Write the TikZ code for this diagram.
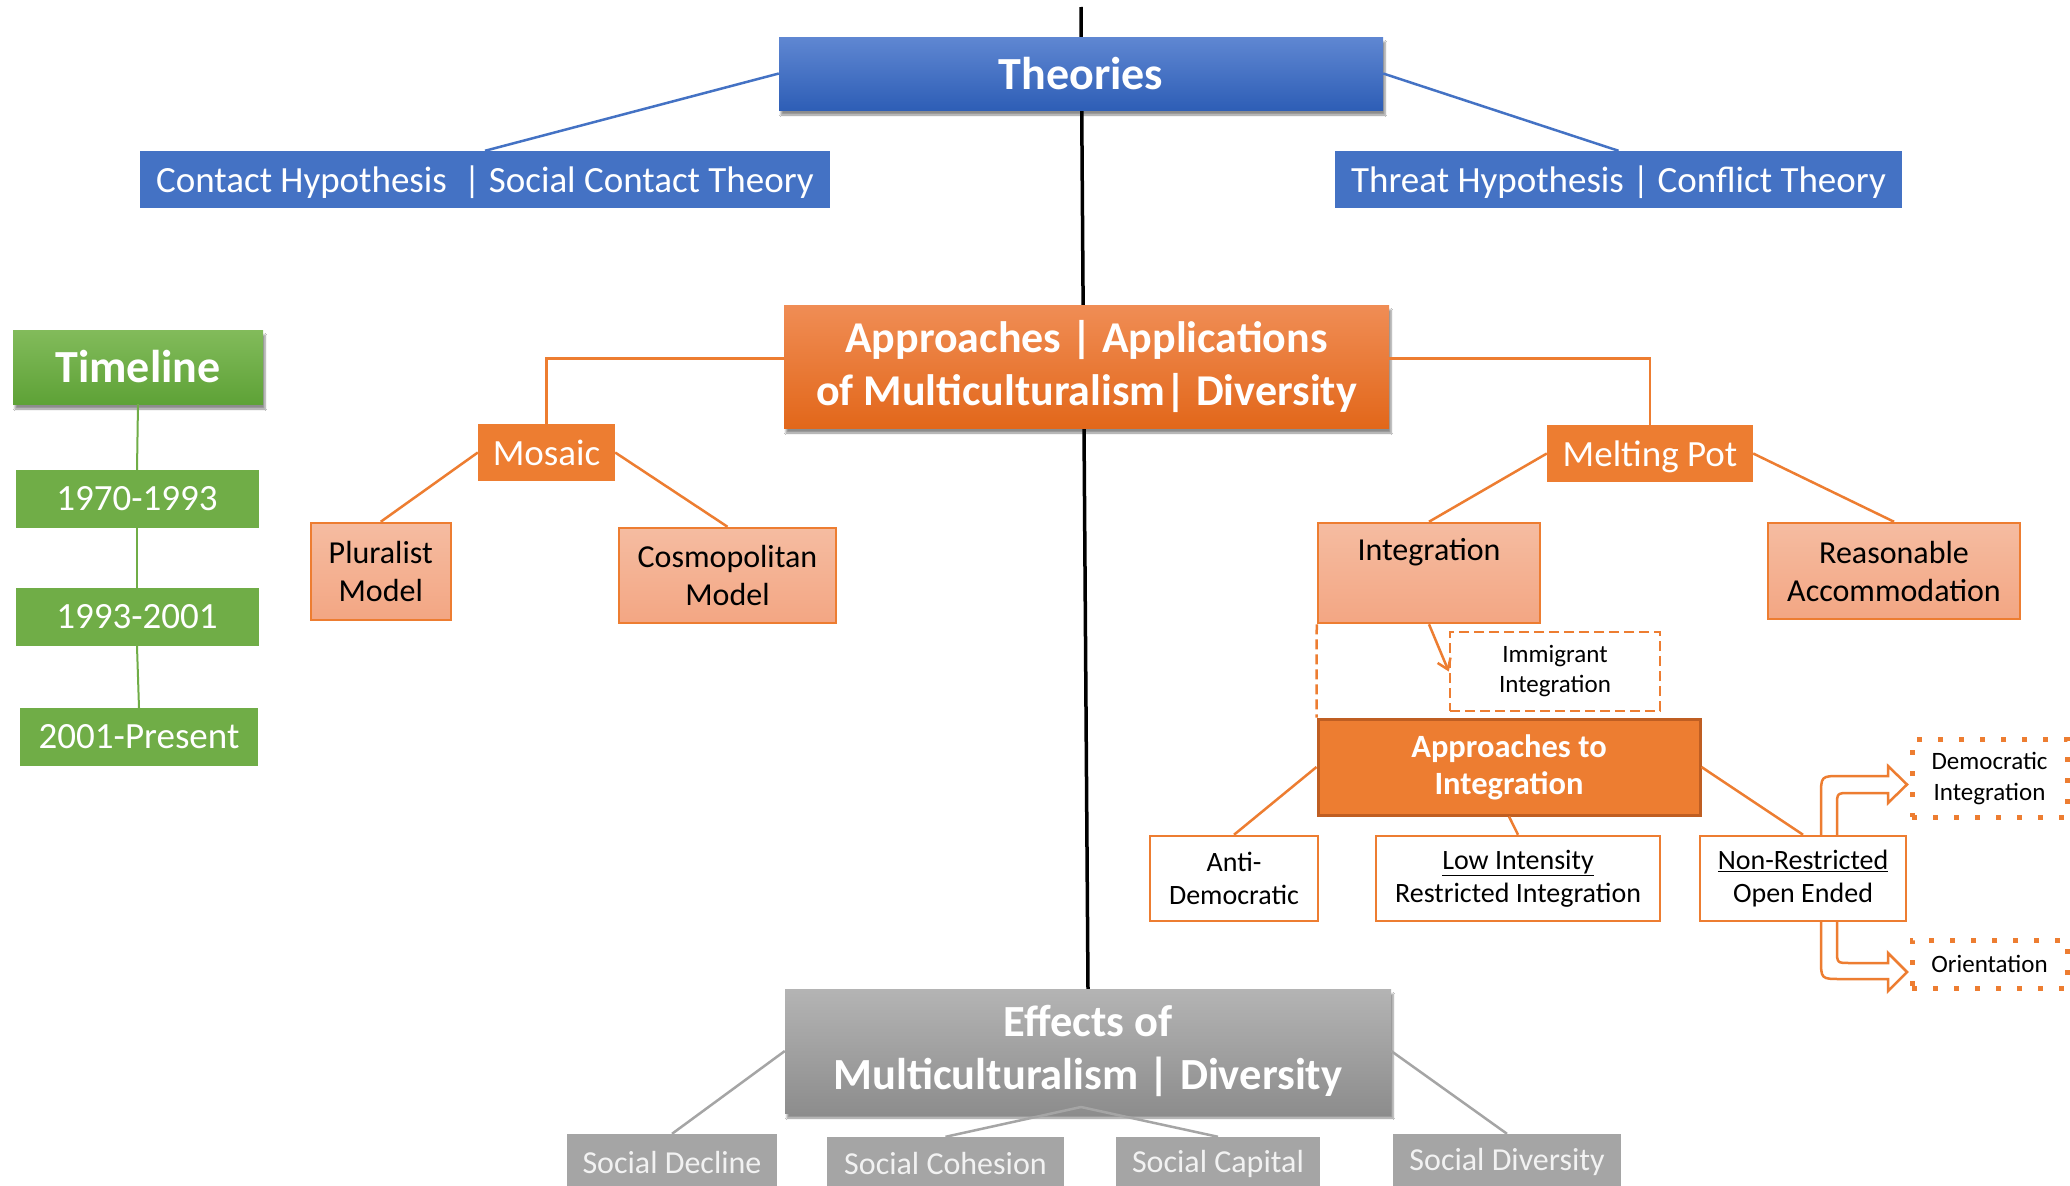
\documentclass[tikz,border=0pt]{standalone}
\usepackage{fontspec}
\setmainfont{Carlito}
\usetikzlibrary{shadows.blur,arrows.meta,backgrounds}
\definecolor{cBlue}{HTML}{4472C4}
\definecolor{cBlueT}{HTML}{5F87D2}
\definecolor{cBlueB}{HTML}{2E5EB6}
\definecolor{cOr}{HTML}{ED7D31}
\definecolor{cOrT}{HTML}{F08D55}
\definecolor{cOrB}{HTML}{E2671A}
\definecolor{cOrD}{HTML}{BF5E22}
\definecolor{cSalT}{HTML}{F5BCA1}
\definecolor{cSalB}{HTML}{F3A683}
\definecolor{cGr}{HTML}{70AD47}
\definecolor{cGrT}{HTML}{82BB5B}
\definecolor{cGrB}{HTML}{5EA236}
\definecolor{cGy}{HTML}{A5A5A5}
\definecolor{cGyT}{HTML}{B4B4B4}
\definecolor{cGyB}{HTML}{8D8D8D}
\newcommand{\myfs}[2]{\fontsize{#1}{#2}\selectfont}
\begin{document}
\begin{tikzpicture}[x=1pt,y=-1pt,
  box/.style={rectangle, inner sep=0pt, align=center},
  hdr/.style={box, text=white, font=\myfs{46}{53}\bfseries,
    blur shadow={shadow xshift=2pt, shadow yshift=-5pt, shadow blur steps=6, shadow opacity=45}},
  bluebox/.style={box, fill=cBlue, text=white, font=\myfs{37}{44}},
  greenbox/.style={box, fill=cGr, text=white, font=\myfs{37}{44}},
  orbox/.style={box, fill=cOr, text=white, font=\myfs{37}{44}},
  salbox/.style={box, top color=cSalT, bottom color=cSalB, draw=cOr, line width=2.5pt, font=\myfs{32}{38}},
  whitebox/.style={box, fill=white, draw=cOr, line width=2.5pt, font=\myfs{28}{33}},
  graybox/.style={box, fill=cGy, text=white!95!black, font=\myfs{32}{38}},
  dashbox/.style={box, draw=cOr, line width=2.5pt, dash pattern=on 10pt off 5pt, font=\myfs{25}{30}},
  dotbox/.style={box, draw=cOr, line width=5pt, dash pattern=on 5pt off 16pt, font=\myfs{25}{31}},
  blueline/.style={draw=cBlue, line width=2.5pt},
  orline/.style={draw=cOr, line width=2.5pt},
  grline/.style={draw=cGr, line width=2pt},
  gyline/.style={draw=cGy, line width=2.5pt},
  uarrow/.style={draw=cOr, line width=2.5pt, fill=white, line join=miter}
]
\useasboundingbox (0,0) rectangle (2070,1186);
\clip (0,0) rectangle (2070,1186);

% top level
\node[hdr, top color=cBlueT, bottom color=cBlueB, minimum width=604pt, minimum height=73pt] (theories) at (1081,73.5) {Theories};
\node[bluebox, text depth=0pt, minimum width=690pt, minimum height=57pt] (contact) at (485,179.5) {Contact Hypothesis\hspace{0.45em}| Social Contact Theory};
\node[bluebox, text depth=0pt, minimum width=567pt, minimum height=57pt] (threat) at (1618.5,179.5) {Threat Hypothesis | Conflict Theory};

\node[hdr, font=\myfs{44}{53}\bfseries, top color=cOrT, bottom color=cOrB, minimum width=605pt, minimum height=123pt] (approaches) at (1086.5,366.5) {Approaches | Applications\\of Multiculturalism| Diversity};

% timeline
\node[hdr, top color=cGrT, bottom color=cGrB, minimum width=250pt, minimum height=74pt] (timeline) at (138,367) {Timeline};
\node[greenbox, minimum width=243pt, minimum height=58pt] (y1) at (137,499) {1970-1993};
\node[greenbox, minimum width=243pt, minimum height=58pt] (y2) at (137,617) {1993-2001};
\node[greenbox, minimum width=238pt, minimum height=58pt] (y3) at (139,737) {2001-Present};

% mosaic branch
\node[orbox, minimum width=137pt, minimum height=57pt] (mosaic) at (546.5,452.5) {Mosaic};
\node[salbox, minimum width=140pt, minimum height=97pt] (pluralist) at (380.75,571.5) {Pluralist\\Model};
\node[salbox, minimum width=217pt, minimum height=95pt] (cosmo) at (727.5,575.5) {Cosmopolitan\\Model};

% melting pot branch
\node[orbox, text depth=0pt, minimum width=206pt, minimum height=57pt] (melting) at (1650,453.5) {Melting Pot};
\node[salbox, minimum width=222pt, minimum height=100pt] (integ) at (1429,573) {};
\node[box, font=\myfs{32}{38}] (integt) at (1429,552) {Integration};
\node[salbox, minimum width=252pt, minimum height=96pt] (reason) at (1894,571) {Reasonable\\Accommodation};
\node[dashbox, minimum width=210pt, minimum height=79pt] (immig) at (1555,671.5) {Immigrant\\Integration};

\node[box, fill=cOr, draw=cOrD, line width=3pt, text=white, font=\myfs{32.5}{37}\bfseries, minimum width=382pt, minimum height=96pt] (ati) at (1509,767) {Approaches to\\Integration};
\node[whitebox, minimum width=168pt, minimum height=85pt] (antidem) at (1234,878.5) {Anti-\\Democratic};
\node[whitebox, minimum width=284pt, minimum height=85pt] (lowint) at (1518,878.5) {\underline{Low Intensity}\\Restricted Integration};
\node[whitebox, minimum width=206pt, minimum height=85pt] (nonres) at (1803,878.5) {\underline{Non-Restricted}\\Open Ended};
\node[dotbox, minimum width=155pt, minimum height=78pt] (democ) at (1989.5,778) {Democratic\\Integration};
\node[dotbox, minimum width=155pt, minimum height=48pt] (orient) at (1989.5,964) {Orientation};

% effects
\node[hdr, font=\myfs{44.5}{53}\bfseries, top color=cGyT, bottom color=cGyB, minimum width=606pt, minimum height=124pt] (effects) at (1088,1051) {Effects of\\Multiculturalism | Diversity};
\node[graybox, minimum width=210pt, minimum height=56pt] (decline) at (672,1162) {Social Decline};
\node[graybox, minimum width=237pt, minimum height=53pt] (cohesion) at (945.5,1163.5) {Social Cohesion};
\node[graybox, minimum width=204pt, minimum height=53pt] (capital) at (1218,1163.5) {Social Capital};
\node[graybox, minimum width=228pt, minimum height=56pt] (diversity) at (1507,1162) {Social Diversity};

\coordinate (vtop) at (1081,7);
\coordinate (apex) at (1081,1107);

\begin{scope}[on background layer]
  \fill[white] (0,0) rectangle (2070,1186);
  \draw[black, line width=3.5pt] (vtop) -- (effects.north);
  % U-turn block arrows
  \draw[uarrow] (1821,836) -- (1821,796) .. controls (1821,776) .. (1841,776) -- (1888,776) -- (1888,766) -- (1907,784.5) -- (1888,803) -- (1888,793) -- (1850,793) .. controls (1837,793) .. (1837,806) -- (1837,836);
  \draw[uarrow] (1821,921) -- (1821,959) .. controls (1821,979) .. (1841,979) -- (1888,979) -- (1888,991) -- (1907,972) -- (1888,953) -- (1888,963) -- (1850,963) .. controls (1837,963) .. (1837,950) -- (1837,921);
\end{scope}

% connectors
\draw[blueline] (theories.west) -- (contact.north);
\draw[blueline] (theories.east) -- (threat.north);

\draw[orline] ([yshift=8pt]approaches.west) -| (mosaic.north);
\draw[orline] ([yshift=8pt]approaches.east) -| (melting.north);

\draw[grline] (timeline.south) -- (y1.north);
\draw[grline] (y1.south) -- (y2.north);
\draw[grline] (y2.south) -- (y3.north);

\draw[orline] (mosaic.west) -- (pluralist.north);
\draw[orline] (mosaic.east) -- (cosmo.north);
\draw[orline] (melting.west) -- (integ.north);
\draw[orline] (melting.east) -- (reason.north);

\draw[orline, -{Straight Barb[length=10pt,width=14pt]}] (integ.south) -- (immig.west);
\draw[orline, dash pattern=on 10pt off 5pt] (integ.south west) -- (ati.north west);

\draw[orline] (ati.west) -- (antidem.north);
\draw[orline] (ati.south) -- (lowint.north);
\draw[orline] (ati.east) -- (nonres.north);

\draw[gyline] (effects.west) -- (decline.north);
\draw[gyline] (effects.east) -- (diversity.north);
\draw[gyline] (apex) -- (cohesion.north);
\draw[gyline] (apex) -- (capital.north);
\end{tikzpicture}
\end{document}
